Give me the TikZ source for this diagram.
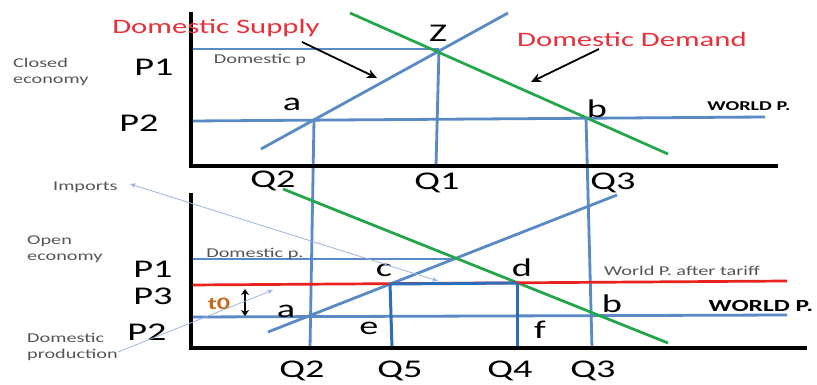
\documentclass[tikz,border=0pt]{standalone}
\usepackage{fontspec}
\usetikzlibrary{arrows.meta}
\newfontfamily\wf[FakeStretch=1.5]{Carlito}
\definecolor{lblue}{HTML}{5A8AC6}
\definecolor{dblue}{HTML}{2E6DB8}
\definecolor{dgreen}{HTML}{22A64A}
\definecolor{dred}{HTML}{E8231E}
\definecolor{tred}{HTML}{E8303A}
\definecolor{brown}{HTML}{C56A1C}
\definecolor{txtgray}{HTML}{555555}
\definecolor{pale}{HTML}{9DB6DA}
\begin{document}
\begin{tikzpicture}[x=1pt,y=-1pt,
  blueln/.style={draw=lblue,line width=2.8pt},
  boxln/.style={draw=dblue,line width=3pt},
  greenln/.style={draw=dgreen,line width=2.7pt},
  axisln/.style={draw=black,line width=3.4pt},
  big/.style={inner sep=0pt,font=\wf\fontsize{25.5}{25.5}\selectfont},
  title/.style={inner sep=0pt,text=tred,font=\wf\fontsize{20.5}{20.5}\selectfont},
  small/.style={inner sep=0pt,text=txtgray,font=\wf\fontsize{13.5}{15.5}\selectfont,align=left},
  worldlab/.style={inner sep=0pt,font=\wf\bfseries\fontsize{#1}{#1}\selectfont},
  blackarrow/.style={draw=black,line width=1.8pt,-{Stealth[length=10pt,width=9pt]}},
  thinarrow/.style={draw=pale,line width=0.8pt}
]
\useasboundingbox (0,0) rectangle (817,385);
\fill[white] (0,0) rectangle (817,385);

% ---------- top panel coordinates
\coordinate (tyA) at (191,12);
\coordinate (tO) at (191,166);
\coordinate (txE) at (778,166);
\coordinate (tP1) at (191,49);
\coordinate (tZ) at (439,49);
\coordinate (tP2) at (191,121);
\coordinate (tP2e) at (765,117);
\coordinate (tS1) at (261,149);
\coordinate (tS2) at (508,13);
\coordinate (tD1) at (350,13);
\coordinate (tD2) at (668,154);
\coordinate (ta) at (314,120);
\coordinate (tb) at (586,117);
\coordinate (tQ1) at (436,166);

% ---------- bottom panel coordinates
\coordinate (byA) at (191,193);
\coordinate (bO) at (191,348);
\coordinate (bxE) at (807,348);
\coordinate (bP1) at (191,259);
\coordinate (bP1e) at (455,259);
\coordinate (bR1) at (191,285);
\coordinate (bR2) at (787,281);
\coordinate (bP2) at (191,317);
\coordinate (bP2e) at (787,315);
\coordinate (bS1) at (268,332);
\coordinate (bS2) at (617,195);
\coordinate (bD1) at (283,189);
\coordinate (bD2) at (668,343);
\coordinate (bc) at (390,284);
\coordinate (bd) at (517,283);
\coordinate (be) at (392,348);
\coordinate (bf) at (517,348);
\coordinate (bQ2) at (310,348);
\coordinate (bQ3) at (592,348);

% ---------- top panel lines
\draw[blueln] (tP1) -- (tZ);
\draw[blueln] (tP2) -- (tP2e);
\draw[blueln] (tS1) -- (tS2);
\draw[blueln] (tZ) -- (tQ1);
\draw[greenln] (tD1) -- (tD2);
\draw[blueln] (ta) -- (bQ2);
\draw[blueln] (tb) -- (bQ3);
\draw[axisln] (tyA) -- (tO) -- (txE);

% ---------- bottom panel lines
\draw[blueln] (bP1) -- (bP1e);
\draw[blueln] (bP2) -- (bP2e);
\draw[blueln] (bS1) -- (bS2);
\draw[greenln] (bD1) -- (bD2);
\draw[draw=dred,line width=2.7pt] (bR1) -- (bR2);
\draw[boxln] (bc) -- (bd);
\draw[boxln] (bc |- bd) -- (be);
\draw[boxln] (bd) -- (bf);
\draw[axisln] (byA) -- (bO) -- (bxE);

% ---------- texts top
\node[title] (dsup) at (216,28) {Domestic Supply};
\node[title] (ddem) at (632,39) {Domestic Demand};
\node[big] (Z) at (438,33) {Z};
\node[small,anchor=west] (closed) at (13,72) {Closed\\economy};
\node[big] (tp1) at (154,67) {P1};
\node[small] (domp) at (260,60) {Domestic p};
\node[big] (tla) at (292,104) {a};
\node[big] (tp2) at (139,123) {P2};
\node[big] (tlb) at (597,109) {b};
\node[worldlab=13.5] (wp1) at (749,106) {WORLD P.};
\node[big] (tq2) at (273,181) {Q2};
\node[big] (tq1) at (437,183) {Q1};
\node[big] (tq3) at (613,183) {Q3};
\coordinate (dsA) at (302,42);
\coordinate (dsB) at (377,78);
\coordinate (ddA) at (599,49);
\coordinate (ddB) at (531,82);
\draw[blackarrow] (dsA) -- (dsB);
\draw[blackarrow] (ddA) -- (ddB);

% ---------- texts bottom
\node[small,anchor=west] (imports) at (53,187) {Imports};
\node[small,anchor=west] (open) at (27,249) {Open\\economy};
\node[small] (domp2) at (255,254) {Domestic p.};
\node[big] (bp1) at (153,269) {P1};
\node[big] (blc) at (384,270) {c};
\node[big] (bld) at (522,268) {d};
\node[small] (wpat) at (682,271) {World P. after tariff};
\node[big] (bp3) at (153,296) {P3};
\node[inner sep=0pt,text=brown,font=\wf\bfseries\fontsize{17.5}{17.5}\selectfont] (t0) at (219,304) {t0};
\node[big] (bla) at (286,311) {a};
\node[big] (blb) at (612,304) {b};
\node[worldlab=17] (wp2) at (761,306) {WORLD P.};
\node[big] (bp2) at (147,332) {P2};
\node[big] (ble) at (369,328) {e};
\node[big] (blf) at (540,330) {f};
\node[small,anchor=west] (dprod) at (27,347) {Domestic\\production};
\node[big] (bq2) at (302,371) {Q2};
\node[big] (bq5) at (400,371) {Q5};
\node[big] (bq4) at (510,371) {Q4};
\node[big] (bq3) at (593,371) {Q3};

% tariff double arrow
\coordinate (tA) at (245,289);
\coordinate (tB) at (245,316);
\draw[line width=1.8pt,{Stealth[length=6pt,width=8pt]}-{Stealth[length=6pt,width=8pt]}] (tA) -- (tB);

% thin pointer arrows
\coordinate (impA) at (130,184);
\coordinate (impB) at (438,281);
\draw[thinarrow,{Stealth[length=6pt,width=5pt,open]}-{Stealth[length=6pt,width=5pt,open]}] (impA) -- (impB);
\coordinate (dpA) at (118,352);
\coordinate (dpB) at (273,290);
\draw[thinarrow,-{Stealth[length=6pt,width=5pt,open]}] (dpA) -- (dpB);
\end{tikzpicture}
\end{document}
